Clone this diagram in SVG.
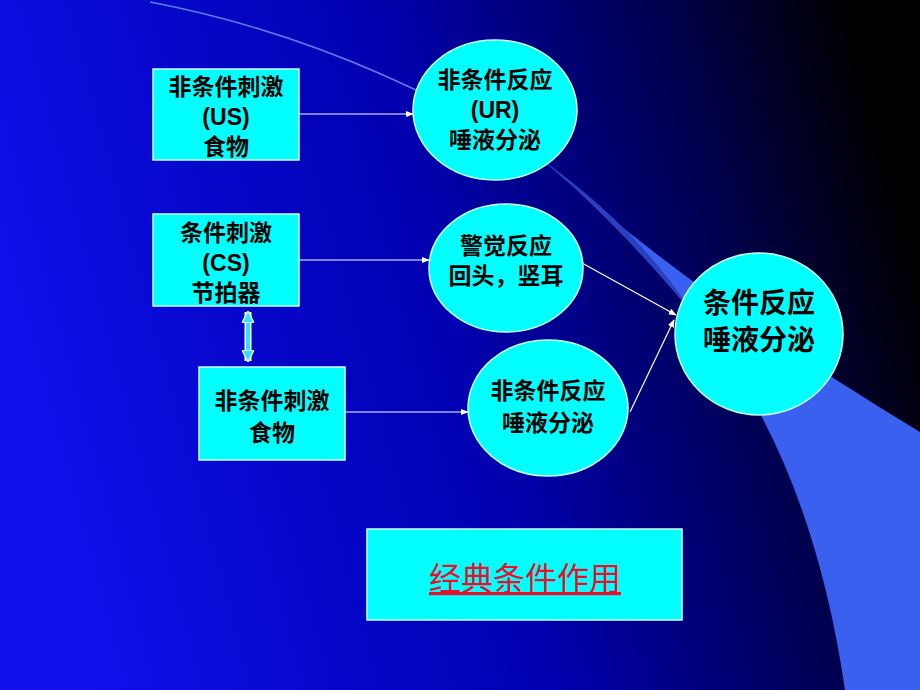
<svg xmlns="http://www.w3.org/2000/svg" width="920" height="690" viewBox="0 0 920 690">
<defs>
<linearGradient id="bg" x1="0" y1="0.6" x2="1" y2="0.4">
<stop offset="0" stop-color="#1010ee"/>
<stop offset="0.5" stop-color="#0000b0"/>
<stop offset="0.8" stop-color="#000050"/>
<stop offset="1" stop-color="#000000"/>
</linearGradient>
<marker id="ah" viewBox="0 0 10 10" refX="9" refY="5" markerWidth="8" markerHeight="8" orient="auto" markerUnits="userSpaceOnUse"><path d="M0,1 L10,5 L0,9 Z" fill="#fff"/></marker>
<marker id="dh" viewBox="0 0 10 10" refX="9" refY="5" markerWidth="12" markerHeight="12" orient="auto-start-reverse" markerUnits="userSpaceOnUse"><path d="M0,0 L10,5 L0,10 Z" fill="#33e0ff" stroke="#fff" stroke-width="1"/></marker>
<style>
.n{fill:#00ffff;stroke:#ccffff;stroke-width:1.5}
.t{font-family:"Liberation Sans","Noto Sans CJK SC",sans-serif;font-size:23px;font-weight:bold;fill:#000;text-anchor:middle}
.c{stroke:#fff;stroke-width:1.2;fill:none;marker-end:url(#ah)}
</style>
</defs>
<rect width="920" height="690" fill="url(#bg)"/>
<path d="M150,2 Q350,40 540,158" fill="none" stroke="#5a7cff" stroke-width="1.5"/>
<path d="M540,158 Q700,300 920,432 L920,690 L845,690 Q810,450 690,310 Q610,215 540,158 Z" fill="#3a60f0"/>
<path d="M540,158 Q640,230 690,310 Q610,215 540,158 Z" fill="#2a40c0"/>
<g id="connectors">
<line class="c" x1="299" y1="114" x2="413" y2="114"/>
<line class="c" x1="299" y1="260" x2="429" y2="260"/>
<line class="c" x1="345" y1="412" x2="468" y2="412"/>
<line class="c" x1="582" y1="263" x2="676" y2="315"/>
<line class="c" x1="630" y1="412" x2="674" y2="320"/>
<line x1="248" y1="312" x2="248" y2="361" stroke="#fff" stroke-width="7"/>
<line x1="248" y1="312" x2="248" y2="361" stroke="#33e0ff" stroke-width="4" marker-start="url(#dh)" marker-end="url(#dh)"/>
</g>
<g id="us"><rect class="n" x="153" y="69" width="146" height="91"/>
<text class="t" x="226" y="95">非条件刺激</text><text class="t" x="226" y="125">(US)</text><text class="t" x="226" y="155">食物</text></g>
<g id="ur"><ellipse class="n" cx="495" cy="110" rx="82" ry="70"/>
<text class="t" x="495" y="88">非条件反应</text><text class="t" x="495" y="118">(UR)</text><text class="t" x="495" y="148">唾液分泌</text></g>
<g id="cs"><rect class="n" x="153" y="214" width="146" height="92"/>
<text class="t" x="226" y="241">条件刺激</text><text class="t" x="226" y="271">(CS)</text><text class="t" x="226" y="301">节拍器</text></g>
<g id="alert"><ellipse class="n" cx="506" cy="268" rx="77" ry="64"/>
<text class="t" x="506" y="254">警觉反应</text><text class="t" x="506" y="284">回头，竖耳</text></g>
<g id="us2"><rect class="n" x="199" y="367" width="146" height="93"/>
<text class="t" x="272" y="409">非条件刺激</text><text class="t" x="272" y="441">食物</text></g>
<g id="ur2"><ellipse class="n" cx="548" cy="408" rx="80" ry="68"/>
<text class="t" x="548" y="399">非条件反应</text><text class="t" x="548" y="431">唾液分泌</text></g>
<g id="cr"><ellipse class="n" cx="759" cy="334" rx="84" ry="81"/>
<text class="t" x="759" y="313" style="font-size:28px">条件反应</text><text class="t" x="759" y="350" style="font-size:28px">唾液分泌</text></g>
<g id="title"><rect class="n" x="367" y="529" width="315" height="91"/>
<text class="t" x="525" y="590" style="font-size:32px;font-weight:normal;fill:#e8102a;text-decoration:underline">经典条件作用</text></g>
</svg>
